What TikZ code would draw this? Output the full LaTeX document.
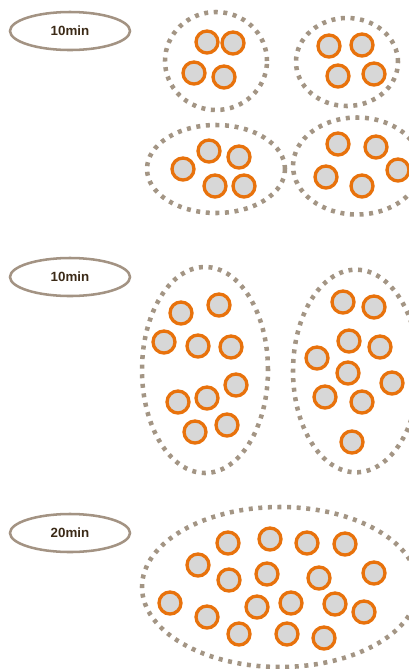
\documentclass[tikz,border=0pt]{standalone}
\usepackage{fontspec}
\setmainfont{Liberation Sans}
\usetikzlibrary{shapes.geometric}
\definecolor{grpcol}{HTML}{A39584}
\definecolor{lblcol}{HTML}{A39383}
\definecolor{txtcol}{HTML}{3B2A17}
\definecolor{ringcol}{HTML}{E8720C}
\definecolor{cellfill}{HTML}{D7D7D7}
\tikzset{
  cell/.style={circle, draw=ringcol, fill=cellfill, line width=2.5pt, minimum size=16.5pt, inner sep=0pt},
  grp/.style={ellipse, draw=grpcol, line width=3.4pt, dash pattern=on 3pt off 4.2pt, inner sep=0pt},
  lbl/.style={ellipse, draw=lblcol, line width=1.9pt, minimum width=90pt, minimum height=28.5pt, inner sep=0pt, text=txtcol, font=\bfseries\fontsize{10pt}{11pt}\selectfont},
}
\begin{document}
\begin{tikzpicture}[x=0.75pt,y=-0.75pt]
\useasboundingbox (0,0) rectangle (409,669);
\clip (0,0) rectangle (409,669);
% labels
\node[lbl] (l1) at (70,31) {10min};
\node[lbl] (l2) at (70,277) {10min};
\node[lbl] (l3) at (70,533) {20min};
% groups
\node[grp, minimum width=76.5pt, minimum height=73.5pt] (g1) at (216,61) {};
\node[grp, minimum width=76.5pt, minimum height=66pt] (g2) at (347,62) {};
\node[grp, minimum width=103.5pt, minimum height=66pt] (g3) at (216,169) {};
\node[grp, minimum width=96pt, minimum height=72.75pt] (g4) at (357,166) {};
\node[grp, minimum width=94.5pt, minimum height=154.5pt] (g5) at (205,370) {};
\node[grp, minimum width=94.5pt, minimum height=152pt] (g6) at (356,371) {};
\node[grp, minimum width=207pt, minimum height=120pt] (g7) at (280,587) {};
% group 1
\node[cell] (a1) at (207,42) {};
\node[cell] (a2) at (233,43) {};
\node[cell] (a3) at (194,73) {};
\node[cell] (a4) at (224,77) {};
% group 2
\node[cell] (b1) at (329,46) {};
\node[cell] (b2) at (362,45) {};
\node[cell] (b3) at (338,76) {};
\node[cell] (b4) at (374,74) {};
% group 3
\node[cell] (c1) at (183,169) {};
\node[cell] (c2) at (209,151) {};
\node[cell] (c3) at (239,157) {};
\node[cell] (c4) at (215,186) {};
\node[cell] (c5) at (244,186) {};
% group 4
\node[cell] (d1) at (338,144) {};
\node[cell] (d2) at (376,147) {};
\node[cell] (d3) at (326,177) {};
\node[cell] (d4) at (362,186) {};
\node[cell] (d5) at (398,170) {};
% group 5
\node[cell] (e1) at (181,313) {};
\node[cell] (e2) at (219,305) {};
\node[cell] (e3) at (164,342) {};
\node[cell] (e4) at (198,346) {};
\node[cell] (e5) at (231,347) {};
\node[cell] (e6) at (236,385) {};
\node[cell] (e7) at (178,402) {};
\node[cell] (e8) at (207,398) {};
\node[cell] (e9) at (195,432) {};
\node[cell] (e10) at (227,425) {};
% group 6
\node[cell] (f1) at (343,302) {};
\node[cell] (f2) at (374,307) {};
\node[cell] (f3) at (349,341) {};
\node[cell] (f4) at (380,347) {};
\node[cell] (f5) at (317,358) {};
\node[cell] (f6) at (348,373) {};
\node[cell] (f7) at (392,383) {};
\node[cell] (f8) at (325,397) {};
\node[cell] (f9) at (362,402) {};
\node[cell] (f10) at (352,442) {};
% group 7
\node[cell] (h1) at (228,543) {};
\node[cell] (h2) at (270,539) {};
\node[cell] (h3) at (307,543) {};
\node[cell] (h4) at (345,544) {};
\node[cell] (h5) at (198,565) {};
\node[cell] (h6) at (229,580) {};
\node[cell] (h7) at (267,574) {};
\node[cell] (h8) at (319,578) {};
\node[cell] (h9) at (374,573) {};
\node[cell] (h10) at (170,603) {};
\node[cell] (h11) at (207,617) {};
\node[cell] (h12) at (257,607) {};
\node[cell] (h13) at (291,603) {};
\node[cell] (h14) at (335,604) {};
\node[cell] (h15) at (364,612) {};
\node[cell] (h16) at (239,634) {};
\node[cell] (h17) at (287,634) {};
\node[cell] (h18) at (324,638) {};
\end{tikzpicture}
\end{document}
